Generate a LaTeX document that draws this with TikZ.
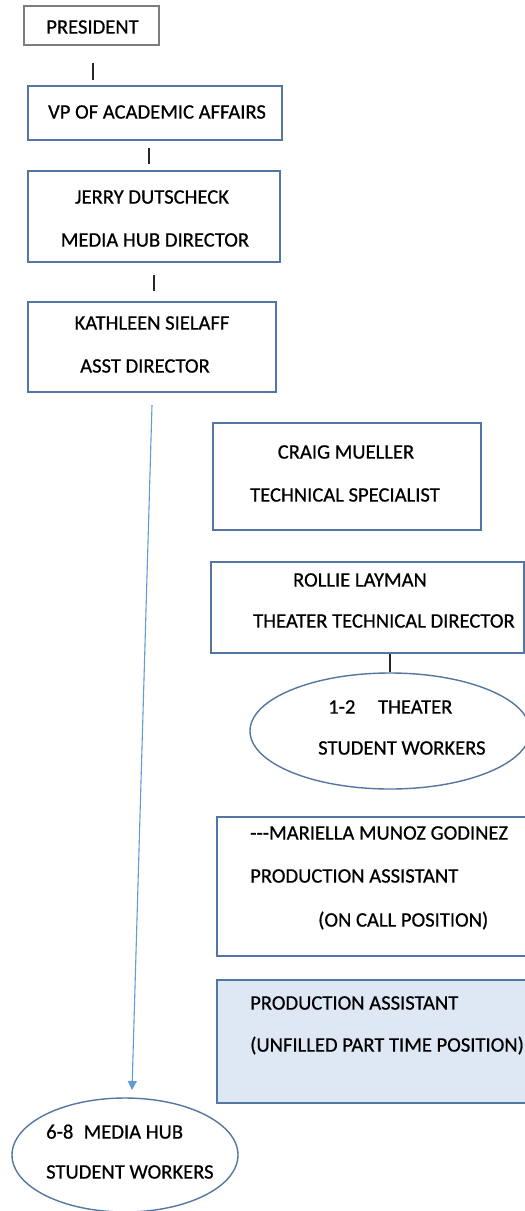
\documentclass[tikz,border=0pt]{standalone}
\usepackage{fontspec}
\setmainfont[FakeBold=0.6]{Carlito}
\usetikzlibrary{arrows.meta,shapes.geometric}
\definecolor{boxblue}{RGB}{84,118,162}
\definecolor{boxgray}{RGB}{125,125,125}
\definecolor{arrowblue}{RGB}{100,155,215}
\definecolor{fillblue}{RGB}{221,232,244}
\tikzset{
  box/.style={draw=boxblue, line width=1.4pt, rectangle, inner sep=0pt},
  oval/.style={draw=boxblue, line width=1.4pt, ellipse, inner sep=0pt},
  txt/.style={inner sep=0pt, text height=13.2pt, text depth=0pt, font=\fontsize{20.6}{24}\selectfont},
  tick/.style={draw=black!85, line width=1.4pt},
}
\begin{document}
\begin{tikzpicture}[x=1pt,y=-1pt]
\useasboundingbox (0,0) rectangle (525,1211);
\fill[white] (0,0) rectangle (525,1211);
\begin{scope}
\clip (0,0) rectangle (525,1211);
% boxes
\node[box, draw=boxgray, minimum width=135pt, minimum height=39pt] (pres) at (91.5,25.5) {};
\node[box, minimum width=254pt, minimum height=54pt] (vp) at (155,113) {};
\node[box, minimum width=252pt, minimum height=91pt] (jerry) at (154,216.5) {};
\node[box, minimum width=248pt, minimum height=90pt] (kath) at (152,347) {};
\node[box, minimum width=268pt, minimum height=107pt] (craig) at (347,476.5) {};
\node[box, minimum width=313pt, minimum height=91pt] (rollie) at (367.5,607.5) {};
\node[oval, minimum width=280pt, minimum height=116pt] (theater) at (390,731) {};
\node[box, minimum width=323pt, minimum height=139pt] (mari) at (378.5,886.5) {};
\node[box, fill=fillblue, minimum width=323pt, minimum height=123pt] (prod) at (378.5,1041.5) {};
\node[oval, minimum width=226pt, minimum height=114pt] (hub) at (125,1155) {};
% texts
\node[txt] (t1) at (92.5,27) {PRESIDENT};
\node[txt] (t2) at (157,112) {VP OF ACADEMIC AFFAIRS};
\node[txt] (t3) at (152,197) {JERRY DUTSCHECK};
\node[txt] (t4) at (155,240) {MEDIA HUB DIRECTOR};
\node[txt] (t5) at (152,323) {KATHLEEN SIELAFF};
\node[txt] (t6) at (145,366) {ASST DIRECTOR};
\node[txt] (t7) at (346,452) {CRAIG MUELLER};
\node[txt] (t8) at (345,495) {TECHNICAL SPECIALIST};
\node[txt] (t9) at (360,580) {ROLLIE LAYMAN};
\node[txt] (t10) at (384,621) {THEATER TECHNICAL DIRECTOR};
\node[txt, anchor=west] (t11) at (328,707) {1-2\hspace{1.1em}THEATER};
\node[txt, anchor=west] (t12) at (318,748) {STUDENT WORKERS};
\node[txt, anchor=west] (t13) at (250,833) {-{}-{}-MARIELLA MUNOZ GODINEZ};
\node[txt, anchor=west] (t14) at (250,876) {PRODUCTION ASSISTANT};
\node[txt, anchor=west] (t15) at (318,920) {(ON CALL POSITION)};
\node[txt, anchor=west] (t16) at (250,1003) {PRODUCTION ASSISTANT};
\node[txt, anchor=west] (t17) at (250,1045) {(UNFILLED PART TIME POSITION)};
\node[txt, anchor=west] (t18) at (46,1132) {6-8\hspace{0.5em}MEDIA HUB};
\node[txt, anchor=west] (t19) at (46,1172) {STUDENT WORKERS};
% connectors (gapped ticks)
\coordinate (c1a) at (93,63); \coordinate (c1b) at (93,80);
\coordinate (c2a) at (149,148); \coordinate (c2b) at (149,164);
\coordinate (c3a) at (154,275); \coordinate (c3b) at (154,291);
\draw[tick] (c1a) -- (c1b);
\draw[tick] (c2a) -- (c2b);
\draw[tick] (c3a) -- (c3b);
\draw[tick] (rollie.south -| theater.north) -- (theater.north);
\coordinate (arrstart) at (152,405);
\draw[draw=arrowblue, line width=1.1pt, -{Triangle[width=9pt,length=9pt]}] (arrstart) -- (132,1090);
\end{scope}
\end{tikzpicture}
\end{document}
